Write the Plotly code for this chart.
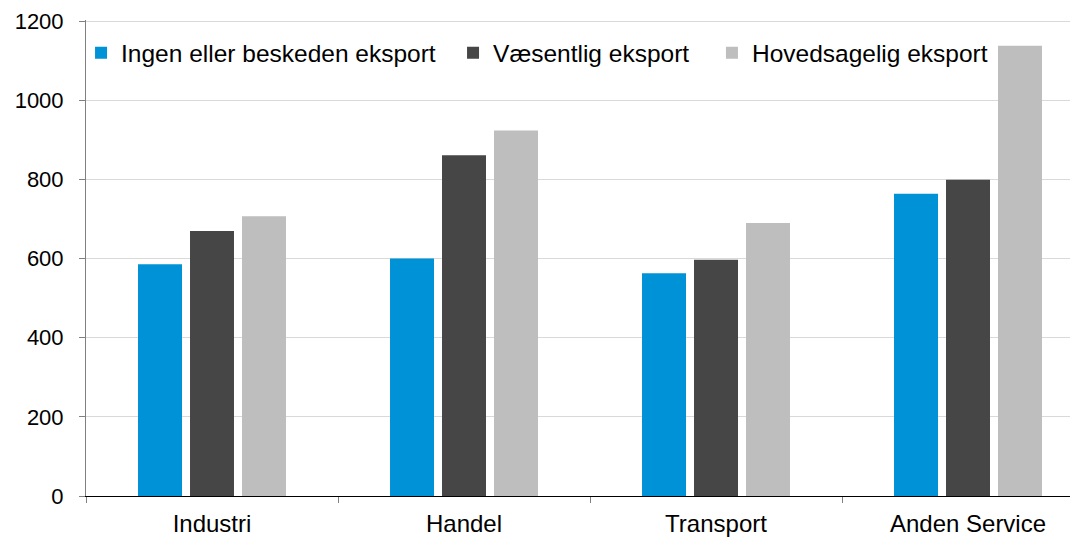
import plotly.graph_objects as go

kategorier = ["Industri", "Handel", "Transport", "Anden Service"]
serier = ["Ingen eller beskeden eksport", "Væsentlig eksport", "Hovedsagelig eksport"]
ingen = [586, 600, 563, 764]
vaesentlig = [670, 861, 597, 799]
hovedsagelig = [707, 924, 690, 1138]
farver = ["#0092D6", "#464646", "#BEBEBE"]

# én legende pr. serie, så afstanden mellem punkterne kan styres
legender = ["legend", "legend2", "legend3"]
legende_x = [-0.005, 0.370, 0.631]

fig = go.Figure()
for navn, vaerdier, farve, leg in zip(serier, [ingen, vaesentlig, hovedsagelig], farver, legender):
    fig.add_trace(go.Bar(x=kategorier, y=vaerdier, name=navn, marker_color=farve,
                         marker_line_width=0, legend=leg))

leg_stil = dict(orientation="h", y=0.931, xanchor="left", yanchor="middle",
                bgcolor="rgba(0,0,0,0)", itemwidth=30, font=dict(size=24.5), borderwidth=0)

# siden har 8px body-margin, derfor 1070x530
fig.update_layout(
    width=1070, height=530,
    margin=dict(l=78, r=0, t=12, b=42),
    paper_bgcolor="white", plot_bgcolor="white",
    font=dict(family="Liberation Sans, Arial", size=24, color="black"),
    barmode="group", bargap=0.381, bargroupgap=0.154,
    showlegend=True,
    legend=dict(x=legende_x[0], **leg_stil),
    legend2=dict(x=legende_x[1], **leg_stil),
    legend3=dict(x=legende_x[2], **leg_stil),
)
fig.update_xaxes(
    range=[-0.5, 3.4365], showgrid=False, showline=True, linecolor="black", linewidth=1,
    ticks="outside", tickson="boundaries", ticklen=6, tickcolor="#808080",
    tickfont=dict(size=24), ticklabelstandoff=6,
)
fig.update_yaxes(
    range=[0, 1203], tickvals=[0, 200, 400, 600, 800, 1000, 1200], showgrid=True,
    gridcolor="#D9D9D9", gridwidth=1,
    showline=True, linecolor="#808080", linewidth=1, ticks="outside", ticklen=6,
    tickcolor="#808080", tickfont=dict(size=22), zeroline=False, ticklabelstandoff=11,
    ticklabeloverflow="allow", automargin=False,
)

fig.write_html("out.html")
